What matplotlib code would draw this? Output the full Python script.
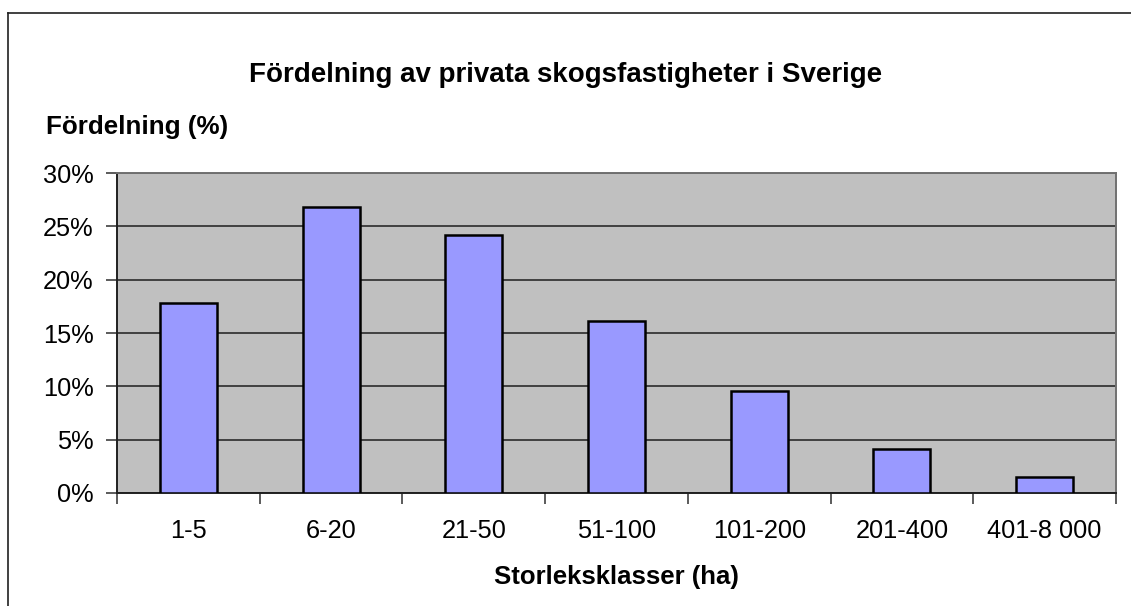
import matplotlib.pyplot as plt
import numpy as np
from matplotlib.lines import Line2D
from matplotlib.ticker import FixedLocator, FuncFormatter

plt.rcParams['font.family'] = ['Liberation Sans', 'DejaVu Sans']

## Data
categories = ['1-5', '6-20', '21-50', '51-100', '101-200', '201-400', '401-8 000']
shares = [17.8, 26.8, 24.2, 16.1, 9.6, 4.1, 1.5]  # percent
y_ticks = [0, 5, 10, 15, 20, 25, 30]

W, H = 1131, 606
fig = plt.figure(figsize=(W / 100, H / 100), dpi=100)
fig.patch.set_facecolor('white')

## Plot area in pixel coordinates
left, right, top, bottom = 117, 1116, 173, 493
ax = fig.add_axes([left / W, 1 - bottom / H, (right - left) / W, (bottom - top) / H])
ax.set_facecolor('#C0C0C0')

x = np.arange(len(categories))
ax.bar(x, shares, width=0.4, color='#9999FF', edgecolor='black', linewidth=1.8, zorder=3)

ax.set_xlim(-0.5, len(categories) - 0.5)
ax.set_ylim(0, 30)

## gridlines
ax.yaxis.set_major_locator(FixedLocator(y_ticks))
ax.yaxis.set_major_formatter(FuncFormatter(lambda v, p: '{:.0f}%'.format(v)))
ax.grid(axis='y', color='#404040', linewidth=1.4, zorder=1)
ax.set_axisbelow(True)

## x ticks at category boundaries, labels at centres
ax.xaxis.set_major_locator(FixedLocator(np.arange(-0.5, len(categories), 1.0)))
ax.xaxis.set_major_formatter(FuncFormatter(lambda v, p: ''))
ax.xaxis.set_minor_locator(FixedLocator(x))
ax.set_xticklabels(categories, minor=True)
ax.tick_params(axis='x', which='major', direction='out', length=8, width=1.2, color='#404040')
ax.tick_params(axis='x', which='minor', length=0, pad=19, labelsize=18.3)
ax.tick_params(axis='y', direction='out', length=8, width=1.2, color='#404040', pad=9, labelsize=18.3)

for s in ['left', 'bottom']:
    ax.spines[s].set_color('#202020')
    ax.spines[s].set_linewidth(1.4)
for s in ['top', 'right']:
    ax.spines[s].set_color('#707070')
    ax.spines[s].set_linewidth(1.4)

## texts
fig.text(W / 2 / W, 1 - 75 / H, 'Fördelning av privata skogsfastigheter i Sverige',
         ha='center', va='center', fontsize=20, fontweight='bold')
fig.text(46 / W, 1 - 127 / H, 'Fördelning (%)', ha='left', va='center',
         fontsize=18.7, fontweight='bold')
fig.text((left + right) / 2 / W, 1 - 577 / H, 'Storleksklasser (ha)',
         ha='center', va='center', fontsize=18.5, fontweight='bold')

## outer chart border (runs off the right and bottom edges)
bx, by = 7.5 / W, 1 - 12.5 / H
fig.add_artist(Line2D([bx, 1], [by, by], transform=fig.transFigure, color='#202020', linewidth=1.2))
fig.add_artist(Line2D([bx, bx], [0, by], transform=fig.transFigure, color='#202020', linewidth=1.2))

plt.savefig('out.png', dpi=100)
